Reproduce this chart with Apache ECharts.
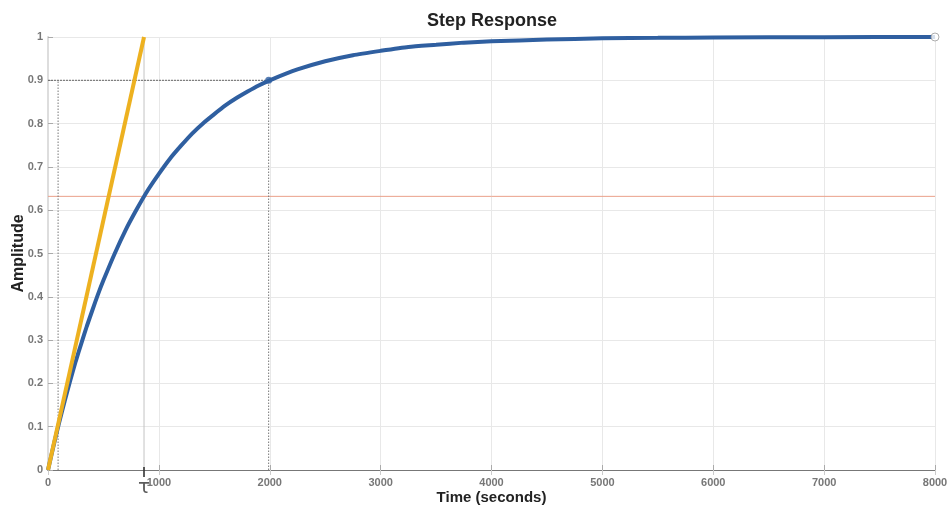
<!DOCTYPE html>
<html>
<head>
<meta charset="utf-8">
<script src="https://cdn.jsdelivr.net/npm/echarts@6/dist/echarts.min.js"></script>
<style>html,body{margin:0;padding:0;background:#fff}#c{width:948px;height:509px}</style>
</head>
<body>
<div id="c"></div>
<script>
// ---- data ----
var timeData = [0,50,100,150,200,250,300,350,400,450,500,600,700,800,900,1000,1100,1200,1300,1400,1500,1600,1700,1800,1900,2000,2250,2500,2750,3000,3250,3500,3750,4000,4500,5000,5500,6000,7000,8000];
var amplitudeData = [0,0.056,0.109,0.159,0.206,0.251,0.292,0.332,0.369,0.405,0.438,0.499,0.554,0.602,0.646,0.684,0.719,0.749,0.777,0.801,0.822,0.842,0.859,0.874,0.888,0.900,0.925,0.944,0.958,0.968,0.977,0.982,0.987,0.990,0.994,0.997,0.998,0.999,0.9997,1.0];
var tau = 866;
var tauLevel = 0.632;
var tangentTimes = [0, 866];
var tangentValues = [0, 1];
var riseLowTime = 91;
var riseHighTime = 1990;
var riseLevel = 0.9;
var finalTime = 8000;
var finalValue = 1;
var xTickStep = 1000;
var yTickStep = 0.1;

var stepPts = timeData.map(function(t,i){return [t, amplitudeData[i]];});
var tangentPts = tangentTimes.map(function(t,i){return [t, tangentValues[i]];});

function refLine(points, color, width, type, z) {
  return {type: 'line', data: points, symbol: 'none', silent: true, z: z || 2,
    lineStyle: {color: color, width: width, type: type}};
}

var chart = echarts.init(document.getElementById('c'));
var font = 'Liberation Sans, Arial, Helvetica, sans-serif';
var option = {
  backgroundColor: '#fff',
  animation: false,
  title: {
    text: 'Step Response',
    left: 422, top: 7,
    textStyle: {fontFamily: font, fontSize: 18, fontWeight: 'bold', color: '#222'}
  },
  grid: {left: 48, right: 13, top: 37, bottom: 39, containLabel: false, outerBoundsMode: 'none'},
  xAxis: [{
    type: 'value', min: 0, max: 8000, interval: xTickStep,
    name: 'Time (seconds)', nameLocation: 'middle', nameGap: 20, nameMoveOverlap: false,
    nameTextStyle: {fontFamily: font, fontSize: 15, fontWeight: 'bold', color: '#222'},
    axisLine: {show: true, lineStyle: {color: '#999', width: 1}},
    axisTick: {show: true, inside: true, length: 5, lineStyle: {color: '#aaa'}},
    axisLabel: {fontFamily: font, fontSize: 11, fontWeight: 'bold', color: '#777', margin: 7,
      formatter: function(v){return String(v);}},
    splitLine: {show: true, lineStyle: {color: '#e8e8e8', width: 1}}
  }, {
    type: 'value', min: 0, max: 8000, interval: xTickStep, position: 'top',
    axisLine: {show: true, lineStyle: {color: '#777', width: 1}},
    axisTick: {show: true, inside: true, length: 5, lineStyle: {color: '#ccc'}},
    axisLabel: {show: false}, splitLine: {show: false}
  }],
  yAxis: [{
    type: 'value', min: 0, max: 1, interval: yTickStep,
    name: 'Amplitude', nameLocation: 'middle', nameGap: 21, nameMoveOverlap: false,
    nameTextStyle: {fontFamily: font, fontSize: 16, fontWeight: 'bold', color: '#222'},
    axisLine: {show: true, lineStyle: {color: '#999', width: 1}},
    axisTick: {show: true, inside: true, length: 5, lineStyle: {color: '#aaa'}},
    axisLabel: {fontFamily: font, fontSize: 11, fontWeight: 'bold', color: '#777', margin: 5,
      formatter: function(v){return String(Math.round(v*10)/10);}},
    splitLine: {show: true, lineStyle: {color: '#e8e8e8', width: 1}}
  }, {
    type: 'value', min: 0, max: 1, interval: yTickStep, position: 'right',
    axisLine: {show: true, lineStyle: {color: '#ddd', width: 2}},
    axisTick: {show: false}, axisLabel: {show: false}, splitLine: {show: false}
  }],
  series: [
    refLine([[0, tauLevel], [finalTime, tauLevel]], '#eaa08a', 1, 'solid'),
    refLine([[tau, 0], [tau, 1]], '#c4c4c4', 1, 'solid'),
    refLine([[riseLowTime, 0], [riseLowTime, riseLevel]], '#777', 1, [1.5, 1.5]),
    refLine([[riseHighTime, 0], [riseHighTime, riseLevel]], '#777', 1, [1.5, 1.5]),
    refLine([[0, riseLevel], [riseHighTime, riseLevel]], '#666', 1, [2, 1]),
    {
      type: 'scatter', data: [[tau, 0]], silent: true, z: 6,
      symbol: 'rect', symbolSize: [2, 10], symbolOffset: [0, 2],
      itemStyle: {color: '#333'},
      label: {show: true, formatter: 'τ', position: 'bottom', distance: 0, offset: [0, 1],
        fontFamily: 'DejaVu Sans, sans-serif', fontSize: 20, color: '#333'}
    },
    {
      name: 'step', type: 'line', data: stepPts, symbol: 'none',
      smooth: 0.2,
      lineStyle: {color: '#2f5fa0', width: 4}, z: 3
    },
    {
      name: 'tangent', type: 'line', data: tangentPts, symbol: 'none',
      lineStyle: {color: '#edb120', width: 4}, z: 4
    },
    {
      type: 'scatter', z: 5,
      data: [[riseHighTime, riseLevel]], symbolSize: 7,
      itemStyle: {color: '#2f5fa0'}
    },
    {
      type: 'scatter', z: 5,
      data: [[finalTime, finalValue]], symbolSize: 8,
      itemStyle: {color: '#fff', borderColor: '#999', borderWidth: 1}
    }
  ]
};
chart.setOption(option);
</script>
</body>
</html>
